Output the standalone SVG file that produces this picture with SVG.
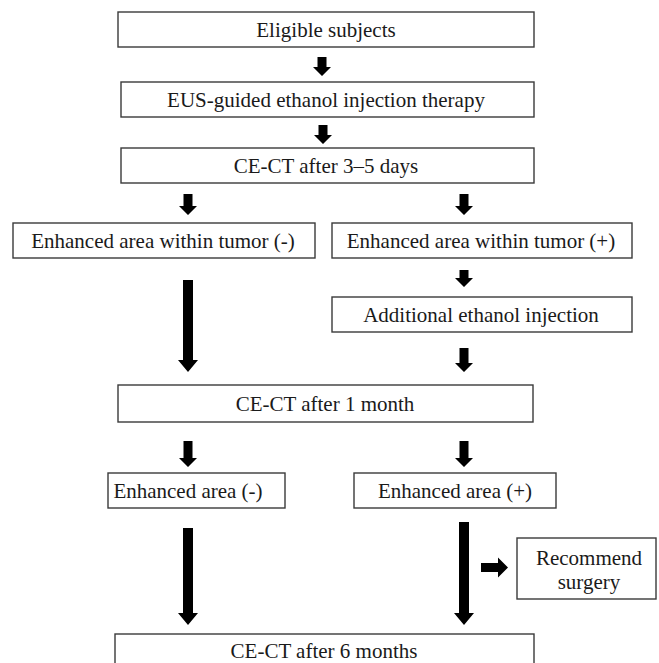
<svg xmlns="http://www.w3.org/2000/svg" width="659" height="663" viewBox="0 0 659 663">
<style>
.box{fill:#fff;stroke:#3a3a3a;stroke-width:1.4}
.t{font-family:"Liberation Serif","Times New Roman",serif;font-size:21px;fill:#1a1a1a;text-anchor:middle}
.arr{fill:#000}
</style>
<rect width="659" height="663" fill="#fff"/>
<g id="n1"><rect class="box" x="118" y="12" width="416" height="35"/><text class="t" x="326" y="37">Eligible subjects</text></g>
<g id="n2"><rect class="box" x="121" y="82" width="413" height="35"/><text class="t" x="326" y="107">EUS-guided ethanol injection therapy</text></g>
<g id="n3"><rect class="box" x="121" y="148" width="413" height="35"/><text class="t" x="326" y="173">CE-CT after 3–5 days</text></g>
<g id="n4"><rect class="box" x="13" y="223" width="302" height="35"/><text class="t" x="163" y="248">Enhanced area within tumor (-)</text></g>
<g id="n5"><rect class="box" x="332" y="223" width="300" height="35"/><text class="t" x="481" y="248">Enhanced area within tumor (+)</text></g>
<g id="n6"><rect class="box" x="332" y="297" width="300" height="35"/><text class="t" x="481" y="322">Additional ethanol injection</text></g>
<g id="n7"><rect class="box" x="118" y="385" width="415" height="37"/><text class="t" x="325" y="411">CE-CT after 1 month</text></g>
<g id="n8"><rect class="box" x="108" y="473" width="177" height="35"/><text class="t" x="188" y="498">Enhanced area (-)</text></g>
<g id="n9"><rect class="box" x="354" y="473" width="202" height="35"/><text class="t" x="455" y="498">Enhanced area (+)</text></g>
<g id="n10"><rect class="box" x="517" y="538" width="139" height="61"/><text class="t" x="589" y="565">Recommend</text><text class="t" x="589" y="589">surgery</text></g>
<g id="n11"><rect class="box" x="115" y="634" width="419" height="40"/><text class="t" x="324" y="658">CE-CT after 6 months</text></g>
<g id="connectors" class="arr">
<path d="M317.5 57h9v10h4.5l-9 9l-9-9h4.5z"/>
<path d="M318.5 125h9v10h4.5l-9 9l-9-9h4.5z"/>
<path d="M183.5 194h9v12h4.5l-9 9l-9-9h4.5z"/>
<path d="M459.5 194h9v12h4.5l-9 9l-9-9h4.5z"/>
<path d="M459.5 270h9v8h4.5l-9 9l-9-9h4.5z"/>
<path d="M183 280h10v80h5l-10 12l-10-12h5z"/>
<path d="M459.5 348h9v15h4.5l-9 9l-9-9h4.5z"/>
<path d="M183.5 441h9v17h4.5l-9 9l-9-9h4.5z"/>
<path d="M459.5 441h9v17h4.5l-9 9l-9-9h4.5z"/>
<path d="M183 528h10v85h5l-10 12l-10-12h5z"/>
<path d="M459 522h10v91h5l-10 12l-10-12h5z"/>
<path d="M481 563h17v-5.5l10 10l-10 10v-5.5h-17z"/>
</g>
</svg>
